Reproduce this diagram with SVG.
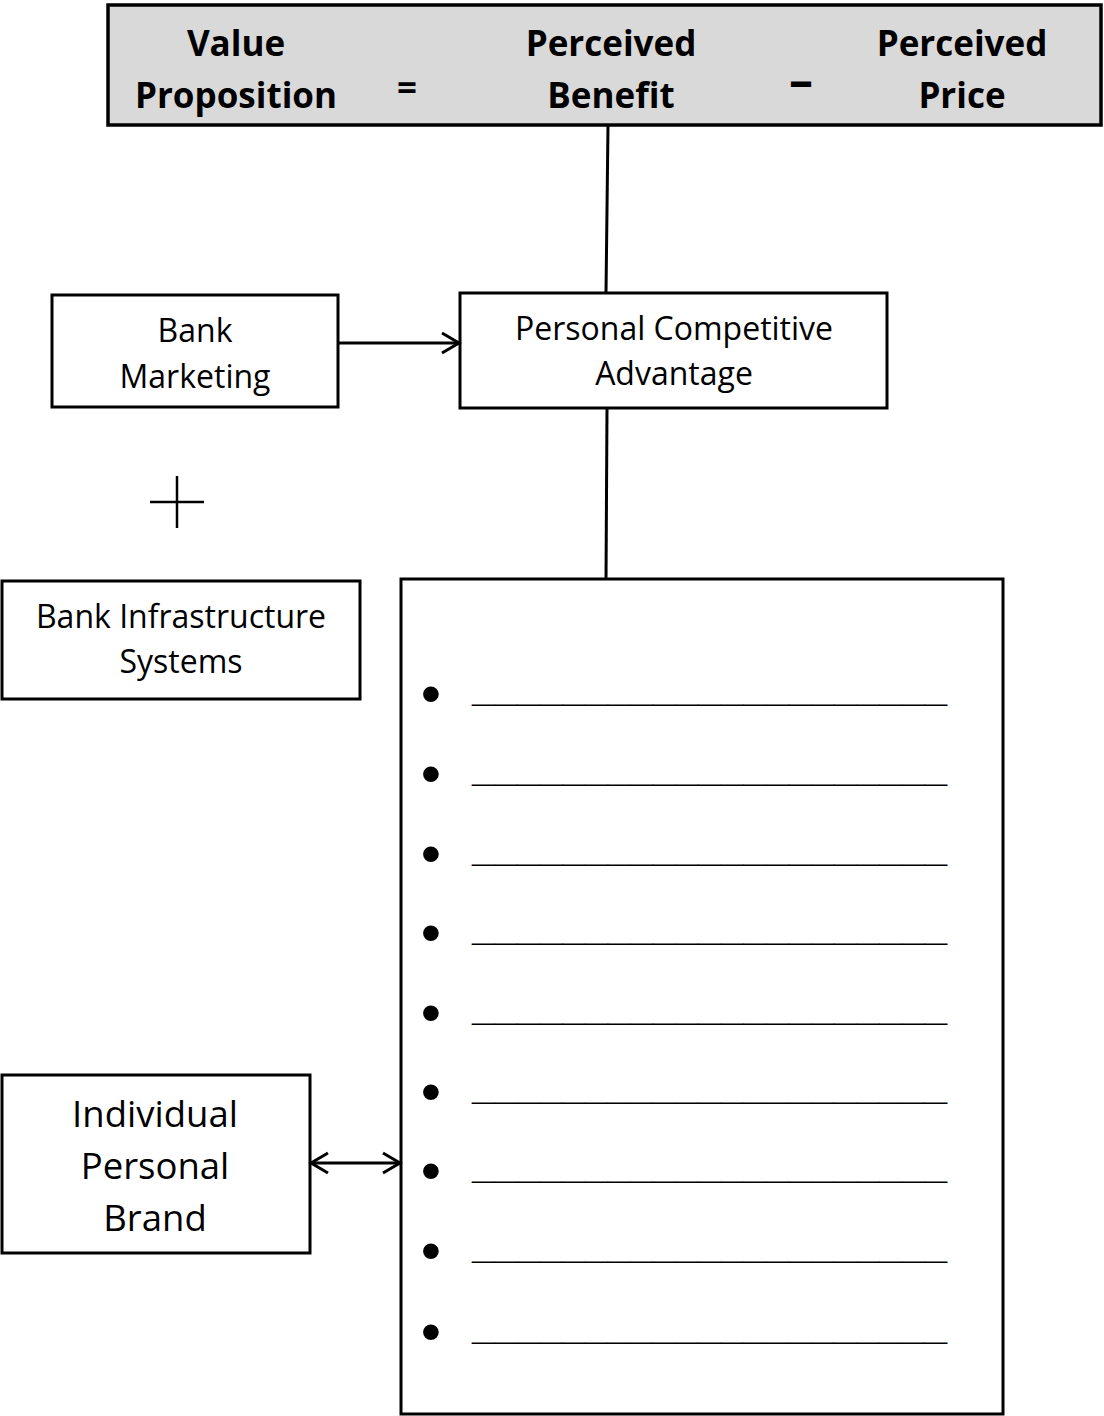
<svg xmlns="http://www.w3.org/2000/svg" width="1104" height="1416" viewBox="0 0 1104 1416">
  <defs>
    <style>
      .box { fill: #ffffff; stroke: #000000; stroke-width: 3; }
      .head { fill: #d9d9d9; stroke: #000000; stroke-width: 3.5; }
      .t { font-family: "Open Sans", "Liberation Sans", sans-serif; font-size: 32px; fill: #000; text-anchor: middle; }
      .tb { font-family: "Open Sans", "Liberation Sans", sans-serif; font-size: 35px; font-weight: bold; fill: #000; text-anchor: middle; }
      .tl { font-family: "Open Sans", "Liberation Sans", sans-serif; font-size: 36.5px; fill: #000; text-anchor: middle; }
      .minus { font-size: 48px; }
      .bul { font-family: "Liberation Sans", sans-serif; font-size: 58px; fill: #000; text-anchor: middle; }
      .blank { font-family: "Liberation Sans", sans-serif; font-size: 40.7px; font-weight: bold; fill: #000; }
      .wire { fill: none; stroke: #000; stroke-width: 3; }
    </style>
    <marker id="open" viewBox="0 0 22 26" refX="19" refY="13" markerWidth="22" markerHeight="26" markerUnits="userSpaceOnUse" orient="auto-start-reverse">
      <path d="M2,3 L19,13 L2,23" fill="none" stroke="#000" stroke-width="3"/>
    </marker>
  </defs>

  <!-- Value equation header -->
  <g id="value-equation">
    <rect class="head" x="108" y="5" width="993" height="120"/>
    <text class="tb" x="236" y="56">Value</text>
    <text class="tb" x="236" y="108">Proposition</text>
    <text class="tb" x="407" y="100">=</text>
    <text class="tb" x="611" y="56">Perceived</text>
    <text class="tb" x="611" y="108">Benefit</text>
    <text class="tb minus" x="801" y="97">–</text>
    <text class="tb" x="962" y="56">Perceived</text>
    <text class="tb" x="962" y="108">Price</text>
  </g>

  <g id="bank-marketing">
    <rect class="box" x="52" y="295" width="286" height="112"/>
    <text class="t" x="195" y="342">Bank</text>
    <text class="t" x="195" y="388">Marketing</text>
  </g>

  <g id="personal-competitive-advantage">
    <rect class="box" x="460" y="293" width="427" height="115"/>
    <text class="t" x="674" y="340">Personal Competitive</text>
    <text class="t" x="674" y="385">Advantage</text>
  </g>

  <!-- plus sign between the bank boxes -->
  <g id="plus">
    <line x1="150" y1="502" x2="204" y2="502" stroke="#000" stroke-width="2.5"/>
    <line x1="177" y1="476" x2="177" y2="528" stroke="#000" stroke-width="2.5"/>
  </g>

  <g id="bank-infrastructure">
    <rect class="box" x="2" y="581" width="358" height="118"/>
    <text class="t" x="181" y="628">Bank Infrastructure</text>
    <text class="t" x="181" y="673">Systems</text>
  </g>

  <g id="attribute-list">
    <rect class="box" x="401" y="579" width="602" height="835"/>
    <g class="bul">
      <text x="431" y="713">•</text>
      <text x="431" y="793">•</text>
      <text x="431" y="873">•</text>
      <text x="431" y="952">•</text>
      <text x="431" y="1032">•</text>
      <text x="431" y="1111">•</text>
      <text x="431" y="1190">•</text>
      <text x="431" y="1270">•</text>
      <text x="431" y="1351">•</text>
    </g>
    <g class="blank">
      <text x="472" y="701">_____________________</text>
      <text x="472" y="781">_____________________</text>
      <text x="472" y="861">_____________________</text>
      <text x="472" y="940">_____________________</text>
      <text x="472" y="1020">_____________________</text>
      <text x="472" y="1099">_____________________</text>
      <text x="472" y="1178">_____________________</text>
      <text x="472" y="1258">_____________________</text>
      <text x="472" y="1339">_____________________</text>
    </g>
  </g>

  <g id="individual-personal-brand">
    <rect class="box" x="2" y="1075" width="308" height="178"/>
    <text class="tl" x="155" y="1127">Individual</text>
    <text class="tl" x="155" y="1179">Personal</text>
    <text class="tl" x="155" y="1231">Brand</text>
  </g>

  <g id="connectors">
    <line class="wire" x1="608" y1="125" x2="606" y2="293"/>
    <line class="wire" x1="607" y1="408" x2="606" y2="580"/>
    <line class="wire" x1="338" y1="343" x2="459" y2="343" marker-end="url(#open)"/>
    <line class="wire" x1="311" y1="1163" x2="400" y2="1163" marker-start="url(#open)" marker-end="url(#open)"/>
  </g>
</svg>
